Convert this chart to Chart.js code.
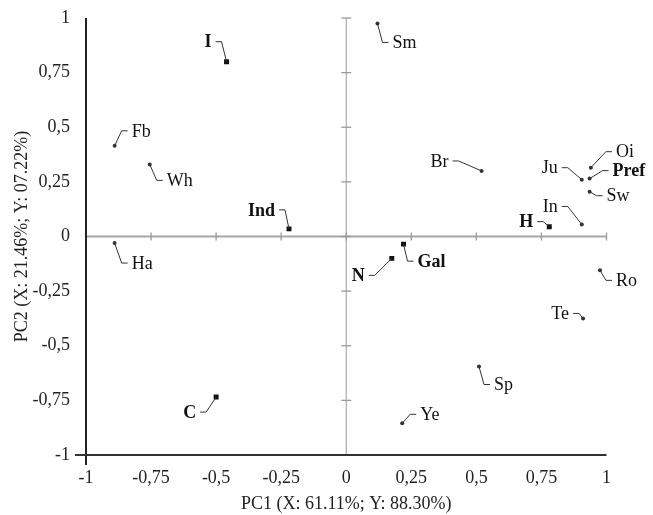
<html>
 <head>
   <meta charset="utf-8" />
   <title>PCA</title>
   <style>
     body { margin: 0; background: #fff; }
     #box { width: 653px; height: 515px; }
   </style>
 </head>
 <body>
<div id="box"><canvas id="pca_chart"></canvas></div>

<script src="https://cdn.jsdelivr.net/npm/chart.js"></script>
<script>

// samples and their scores
names = ['I', 'Fb', 'Wh', 'Ind', 'Ha', 'C', 'Sm', 'Br', 'Oi', 'Pref', 'Ju', 'Sw', 'In', 'H', 'Gal', 'N', 'Ro', 'Te', 'Sp', 'Ye'];
pc1 = [-0.46, -0.89, -0.755, -0.22, -0.89, -0.50, 0.12, 0.52, 0.94, 0.935, 0.905, 0.935, 0.905, 0.78, 0.22, 0.175, 0.975, 0.91, 0.51, 0.215];
pc2 = [0.80, 0.415, 0.33, 0.035, -0.03, -0.735, 0.975, 0.30, 0.315, 0.265, 0.26, 0.205, 0.055, 0.045, -0.035, -0.10, -0.155, -0.375, -0.595, -0.855];
boldNames = ['I', 'Ind', 'C', 'H', 'Gal', 'N', 'Pref'];
squareNames = ['I', 'Ind', 'C', 'H', 'Gal', 'N'];
axisTicks = [-1, -0.75, -0.5, -0.25, 0, 0.25, 0.5, 0.75, 1];

// where each label sits: elbow of the leader line, relative to the point (px)
var labelPos = {
  'Fb': [7, -15], 'Wh': [7, 16], 'Ha': [7, 20], 'Sm': [5, 19], 'Oi': [15, -16],
  'Pref': [13, -8], 'Sw': [7, 4], 'Gal': [4, 17], 'Ro': [6, 10], 'Sp': [5, 18], 'Ye': [8, -9],
  'I': [-5, -20], 'Ind': [-4, -19], 'C': [-10, 15], 'Br': [-23, -10], 'Ju': [-14, -12],
  'In': [-14, -18], 'H': [-6, -5], 'N': [-17, 17], 'Te': [-4, -5]
};

var FONT = '"Liberation Serif", "Times New Roman", serif';

var points = [];
for (var i = 0; i < names.length; i++) {
  points.push({x: pc1[i], y: pc2[i]});
}

function fmt(v) {
  return String(v).replace('.', ',');
}

// axes through zero, outer frame lines, tick marks
var axesPlugin = {
  id: 'axesLines',
  beforeDatasetsDraw: function(chart) {
    var c = chart.ctx, a = chart.chartArea;
    var xs = chart.scales.x, ys = chart.scales.y;
    var x0 = xs.getPixelForValue(0), y0 = ys.getPixelForValue(0);
    c.save();
    // zero lines
    c.strokeStyle = '#a6a6a6';
    c.lineWidth = 2;
    c.beginPath(); c.moveTo(a.left, y0); c.lineTo(a.right, y0); c.stroke();
    c.lineWidth = 1;
    c.strokeStyle = '#9a9a9a';
    c.beginPath(); c.moveTo(x0, a.top); c.lineTo(x0, a.bottom); c.stroke();
    c.lineWidth = 1.3;
    axisTicks.forEach(function(t) {
      var px = xs.getPixelForValue(t);
      if (t > -1) { c.beginPath(); c.moveTo(px, y0 - 4); c.lineTo(px, y0 + 4); c.stroke(); }
      var py = ys.getPixelForValue(t);
      if (t > -1) { c.beginPath(); c.moveTo(x0 - 5, py); c.lineTo(x0 + 5, py); c.stroke(); }
    });
    // frame lines
    c.strokeStyle = '#222';
    c.lineWidth = 2;
    c.beginPath(); c.moveTo(a.left, a.top); c.lineTo(a.left, a.bottom + 10); c.stroke();
    c.strokeStyle = '#333';
    c.beginPath(); c.moveTo(a.left - 11, a.bottom); c.lineTo(a.right, a.bottom); c.stroke();
    c.restore();
  },
  afterDatasetsDraw: function(chart) {
    var c = chart.ctx;
    var meta = chart.getDatasetMeta(0);
    c.save();
    c.strokeStyle = '#333';
    c.lineWidth = 1;
    c.fillStyle = '#111';
    c.textBaseline = 'middle';
    for (var i = 0; i < names.length; i++) {
      var el = meta.data[i];
      var off = labelPos[names[i]] || [6, -10];
      var ex = el.x + off[0], ey = el.y + off[1];
      var dir = off[0] < 0 ? -1 : 1;
      var hx = ex + dir * 6;
      c.beginPath();
      c.moveTo(el.x, el.y);
      c.lineTo(ex, ey);
      c.lineTo(hx, ey);
      c.stroke();
      var bold = boldNames.indexOf(names[i]) >= 0;
      c.font = (bold ? 'bold ' : '') + '18px ' + FONT;
      c.textAlign = dir < 0 ? 'right' : 'left';
      c.fillText(names[i], hx + dir * 4, ey + 1);
    }
    c.restore();
  }
};

var ctx = document.getElementById('pca_chart');
var data = {
  datasets: [{
    label: 'PCA',
    data: points,
    pointStyle: names.map(function(n) { return squareNames.indexOf(n) >= 0 ? 'rect' : 'circle'; }),
    pointRadius: names.map(function(n) { return squareNames.indexOf(n) >= 0 ? 3.5 : 2; }),
    backgroundColor: names.map(function(n) { return squareNames.indexOf(n) >= 0 ? '#111' : '#333'; }),
    borderWidth: 0
  }]
};

var options = {
  responsive: true,
  maintainAspectRatio: false,
  animation: false,
  layout: { padding: { top: 18, right: 46.5, left: 0, bottom: 0 } },
  plugins: {
    legend: { display: false },
    tooltip: { enabled: false }
  },
  scales: {
    x: {
      type: 'linear',
      min: -1, max: 1,
      grid: { display: false, drawTicks: false },
      border: { display: false },
      ticks: {
        stepSize: 0.25,
        padding: 12,
        color: '#222',
        font: { family: FONT, size: 18 },
        maxRotation: 0,
        callback: function(v) { return fmt(v); }
      },
      title: {
        display: true,
        text: 'PC1 (X: 61.11%; Y: 88.30%)',
        color: '#222',
        font: { family: FONT, size: 18 },
        padding: { top: 0, bottom: 0 }
      },
      afterFit: function(scale) {
        scale.height = 60;
        scale.paddingLeft = 0;
        scale.paddingRight = 0;
      }
    },
    y: {
      type: 'linear',
      min: -1, max: 1,
      grid: { display: false, drawTicks: false },
      border: { display: false },
      ticks: {
        stepSize: 0.25,
        padding: 16,
        color: '#222',
        font: { family: FONT, size: 18 },
        callback: function(v) { return fmt(v); }
      },
      title: {
        display: true,
        text: 'PC2 (X: 21.46%; Y: 07.22%)',
        color: '#222',
        font: { family: FONT, size: 18 },
        padding: { top: 11, bottom: 0 }
      },
      afterFit: function(scale) {
        scale.width = 86;
        scale.paddingTop = 0;
        scale.paddingBottom = 0;
      }
    }
  }
};

var pca_chart = new Chart(ctx, {
  type: 'scatter',
  data: data,
  options: options,
  plugins: [axesPlugin]
});

</script>
</body>
</html>
